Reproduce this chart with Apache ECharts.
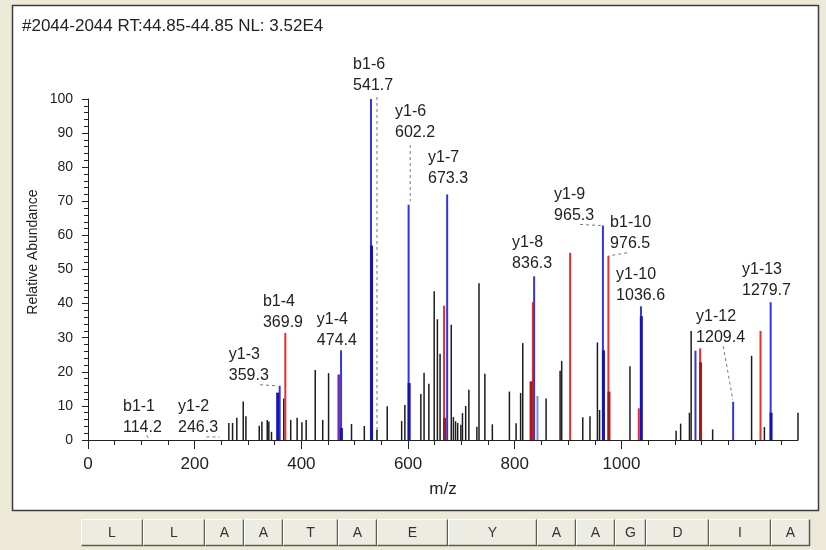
<!DOCTYPE html>
<html>
<head>
<meta charset="utf-8">
<title>MS/MS spectrum</title>
<script src="https://cdn.jsdelivr.net/npm/echarts@6/dist/echarts.min.js"></script>
<style>
  html, body { margin: 0; padding: 0; background: #ECE9D8; }
  #container { width: 826px; height: 550px; }
</style>
</head>
<body>
<div id="container"></div>
<script>
// peaks: m/z, relative abundance, ion type (k plain, b/B y-ions, r/R b-ions, p overlap, g pale)
var peakMz = [264, 271, 279, 291, 296, 321, 326, 336, 339, 344, 355.6, 359.3, 367, 369.9, 380, 392, 401, 409,
  426, 440, 451, 470, 474.4, 475, 494, 518, 530.5, 531.5, 541.7, 561, 588, 594, 601, 602,
  624, 630, 639, 649, 655, 660, 667.5, 668.5, 673.3, 681, 685, 689, 693, 699, 702, 708, 714, 729, 733,
  744, 758, 790, 802.5, 811, 815, 830.6, 834, 836.3, 842.6, 858.8, 885, 888, 903.8, 927.5, 941, 955, 959,
  965.3, 966.3, 975.6, 976.6, 1016, 1032.5, 1036.6, 1037.3, 1102.5, 1111, 1127.5, 1130.7, 1138.8,
  1147.5, 1148.3, 1171, 1209.4, 1244, 1260.7, 1268, 1279.7, 1280.5, 1331];
var peakAb = [5, 5, 6.5, 11.3, 7, 4.2, 5.4, 5.9, 5.4, 2.4, 13.9, 15.9, 12.2, 31.4, 5.9, 6.5, 5.2, 5.9,
  20.5, 5.9, 19.6, 19.2, 26.3, 3.5, 4.7, 4.1, 100, 57, 3, 9.9, 5.6, 10.3, 69, 16.7,
  13.5, 19.7, 16.5, 43.6, 35.4, 25.3, 39.4, 6.5, 72, 33.8, 6.7, 5.5, 5, 4.5, 7.9, 10, 14.7, 3.9, 46,
  19.4, 4.6, 14.2, 4.9, 13.8, 28.4, 17.2, 40.4, 48, 12.9, 12.2, 20.3, 23.2, 54.9, 6.7, 7, 28.6, 8.8,
  62.9, 26.3, 54, 14.2, 21.6, 9.3, 39.2, 36.3, 2.7, 4.8, 8, 32, 26.2,
  26.9, 22.8, 3.1, 11.2, 24.7, 32, 3.8, 40.4, 8, 8];
var peakIon = ['k', 'k', 'k', 'k', 'k', 'k', 'k', 'k', 'k', 'k', 'B', 'b', 'k', 'r', 'k', 'k', 'k', 'k',
  'k', 'k', 'k', 'p', 'b', 'B', 'k', 'k', 'b', 'B', 'k', 'k', 'k', 'k', 'b', 'B',
  'k', 'k', 'k', 'k', 'k', 'k', 'r', 'R', 'b', 'k', 'k', 'k', 'k', 'k', 'k', 'k', 'k', 'k', 'k',
  'k', 'k', 'k', 'k', 'k', 'k', 'R', 'r', 'b', 'g', 'k', 'k', 'k', 'r', 'k', 'k', 'k', 'k',
  'b', 'B', 'r', 'R', 'k', 'r', 'b', 'B', 'k', 'k', 'k', 'k', 'b',
  'r', 'R', 'k', 'b', 'k', 'r', 'k', 'b', 'B', 'k'];

// annotations: name, m/z text, label anchor (m/z, abundance)
var annName = ['b1-1', 'y1-2', 'y1-3', 'b1-4', 'y1-4', 'b1-6', 'y1-6', 'y1-7', 'y1-8', 'y1-9', 'b1-10', 'y1-10', 'y1-12', 'y1-13'];
var annMz = ['114.2', '246.3', '359.3', '369.9', '474.4', '541.7', '602.2', '673.3', '836.3', '965.3', '976.5', '1036.6', '1209.4', '1279.7'];
var annX = [65.6, 168.8, 264, 328, 429, 497, 575.6, 637.5, 795, 873.8, 978.8, 990, 1140, 1226];
var annY = [6.6, 6.6, 21.9, 37.6, 32.2, 106.9, 93.2, 79.7, 54.7, 68.8, 60.6, 45.3, 33.2, 46.8];

// dashed leader lines: [m/z1, ab1, m/z2, ab2]
var leaders = [
  [110, 1.4, 114.2, 0.2],
  [222, 0.9, 246.3, 0.9],
  [322.5, 16.2, 354, 15.9],
  [541.7, 100.6, 541.7, 3],
  [604, 86.5, 604, 70],
  [922.5, 63.2, 961, 62.9],
  [1010.6, 54.9, 976, 54],
  [1191, 27.5, 1208.8, 11.7]
];

// sequence ruler
var residues = ['L', 'L', 'A', 'A', 'T', 'A', 'E', 'Y', 'A', 'A', 'G', 'D', 'I', 'A'];
var residueEdges = [0, 114.1, 227.2, 298.2, 369.2, 470.3, 541.3, 670.4, 833.4, 904.5, 975.5, 1032.5, 1147.6, 1260.7, 1331.7];

var xMinorTicks = [0, 50, 100, 150, 200, 250, 300, 350, 400, 450, 500, 550, 600, 650, 700, 750, 800, 850, 900, 950,
  1000, 1050, 1100, 1150, 1200, 1250, 1300];
var xMajorTicks = [0, 200, 400, 600, 800, 1000, 1200];

var FONT = '"Liberation Sans", Arial, sans-serif';
var ionStyle = {
  k: { color: '#1c1c1c', width: 1.5, z: 1 },
  g: { color: '#8a8ac8', width: 2, z: 2 },
  b: { color: '#3535dd', width: 2, z: 3 },
  r: { color: '#e53030', width: 2, z: 3 },
  p: { color: '#7a2aa8', width: 2.5, z: 3 },
  B: { color: '#1414b4', width: 3, z: 4 },
  R: { color: '#a81818', width: 3, z: 4 }
};

var dom = document.getElementById('container');
var myChart = echarts.init(dom);

var peakData = peakMz.map(function (m, i) { return [m, peakAb[i]]; });
var labelData = annX.map(function (x, i) { return [x, annY[i]]; });
var buttonData = residues.map(function (r, i) { return [residueEdges[i], residueEdges[i + 1]]; });

function renderPeak(params, api) {
  var a = api.coord([api.value(0), 0]);
  var b = api.coord([api.value(0), api.value(1)]);
  var s = ionStyle[peakIon[params.dataIndex]];
  return {
    type: 'line', z2: s.z,
    shape: { x1: a[0], y1: a[1], x2: b[0], y2: b[1] },
    style: { stroke: s.color, lineWidth: s.width }
  };
}

function renderLeader(params, api) {
  var a = api.coord([api.value(0), api.value(1)]);
  var b = api.coord([api.value(2), api.value(3)]);
  return {
    type: 'line',
    shape: { x1: a[0], y1: a[1], x2: b[0], y2: b[1] },
    style: { stroke: '#777', lineWidth: 1, lineDash: [3, 3] }
  };
}

function renderLabel(params, api) {
  var p = api.coord([api.value(0), api.value(1)]);
  var i = params.dataIndex;
  return {
    type: 'text', x: p[0], y: p[1],
    style: {
      text: annName[i] + '\n' + annMz[i],
      font: '16px ' + FONT, fill: '#222', lineHeight: 21,
      align: 'left', verticalAlign: 'middle', textAlign: 'left', textVerticalAlign: 'middle'
    }
  };
}

function renderButton(params, api) {
  var p0 = api.coord([api.value(0), 1]);
  var p1 = api.coord([api.value(1), 0]);
  var x0 = Math.round(p0[0]) + 0.5, y0 = Math.round(p0[1]) + 0.5;
  var x1 = Math.round(p1[0]) - 0.5, y1 = Math.round(p1[1]) - 0.5;
  return {
    type: 'group',
    children: [
      { type: 'rect', shape: { x: x0, y: y0, width: x1 - x0, height: y1 - y0 }, style: { fill: '#EDECE2', stroke: null } },
      { type: 'polyline', shape: { points: [[x0, y1], [x0, y0], [x1, y0]] }, style: { stroke: '#ffffff', fill: null, lineWidth: 1 } },
      { type: 'polyline', shape: { points: [[x0, y1], [x1, y1], [x1, y0]] }, style: { stroke: '#5e5c52', fill: null, lineWidth: 1.5 } },
      {
        type: 'text', x: (x0 + x1) / 2, y: (y0 + y1) / 2 + 1,
        style: {
          text: residues[params.dataIndex], font: '14px ' + FONT, fill: '#333',
          align: 'center', verticalAlign: 'middle', textAlign: 'center', textVerticalAlign: 'middle'
        }
      }
    ]
  };
}

var option = {
  backgroundColor: '#ECE9D8',
  animation: false,
  title: {
    text: '#2044-2044 RT:44.85-44.85 NL: 3.52E4',
    left: 22, top: 18, padding: 0,
    textStyle: { fontSize: 17, fontWeight: 'normal', color: '#222', fontFamily: FONT }
  },
  graphic: [
    { type: 'rect', z: -10, shape: { x: 12.5, y: 5.5, width: 806, height: 505 }, style: { fill: '#ffffff', stroke: '#3c3c3c', lineWidth: 1.5 } },
    {
      type: 'text', x: 33, y: 252, rotation: Math.PI / 2,
      style: { text: 'Relative Abundance', font: '14px ' + FONT, fill: '#222', align: 'center', verticalAlign: 'middle', textAlign: 'center', textVerticalAlign: 'middle' }
    }
  ],
  grid: [
    { left: 88, top: 99, width: 710, height: 341 },
    { left: 81, top: 519, width: 729, height: 27 }
  ],
  xAxis: [
    {
      gridIndex: 0, type: 'value', min: 0, max: 1331, interval: 50,
      axisLine: { lineStyle: { color: '#222', width: 1 } },
      axisTick: { length: 5, customValues: xMinorTicks, lineStyle: { color: '#222' } },
      axisLabel: { show: false },
      splitLine: { show: false }
    },
    {
      gridIndex: 0, type: 'value', min: 0, max: 1331, interval: 200, position: 'bottom',
      axisLine: { show: false },
      axisTick: { length: 9, customValues: xMajorTicks, lineStyle: { color: '#222' } },
      axisLabel: {
        customValues: xMajorTicks, showMaxLabel: false, fontSize: 17, margin: 16, color: '#222', fontFamily: FONT,
        formatter: function (v) { return String(v); }
      },
      splitLine: { show: false },
      name: 'm/z', nameLocation: 'middle', nameGap: 41,
      nameTextStyle: { fontSize: 17, color: '#222', fontFamily: FONT }
    },
    { gridIndex: 1, type: 'value', min: 0, max: 1331.7, show: false }
  ],
  yAxis: [
    {
      gridIndex: 0, type: 'value', min: 0, max: 100, interval: 10,
      axisLine: { show: true, lineStyle: { color: '#222', width: 1 } },
      axisTick: { show: true, length: 6, lineStyle: { color: '#222' } },
      minorTick: { show: true, splitNumber: 5, length: 4, lineStyle: { color: '#222' } },
      axisLabel: { fontSize: 14, margin: 15, color: '#222', fontFamily: FONT },
      splitLine: { show: false }
    },
    { gridIndex: 1, type: 'value', min: 0, max: 1, show: false }
  ],
  series: [
    { type: 'custom', xAxisIndex: 0, yAxisIndex: 0, renderItem: renderPeak, encode: { x: 0, y: 1 }, data: peakData, clip: false },
    { type: 'custom', xAxisIndex: 0, yAxisIndex: 0, renderItem: renderLeader, encode: { x: [0, 2], y: [1, 3] }, data: leaders, z: 3 },
    { type: 'custom', xAxisIndex: 0, yAxisIndex: 0, renderItem: renderLabel, encode: { x: 0, y: 1 }, data: labelData, z: 4 },
    { type: 'custom', xAxisIndex: 2, yAxisIndex: 1, renderItem: renderButton, encode: { x: [0, 1] }, data: buttonData }
  ]
};

myChart.setOption(option);
</script>
</body>
</html>
